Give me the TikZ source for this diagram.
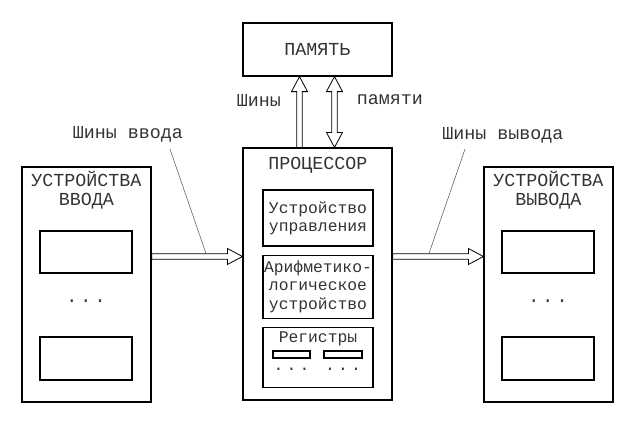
\documentclass[tikz,border=0pt]{standalone}
\usepackage{fontspec}
\setmonofont{Liberation Mono}
\usetikzlibrary{positioning, calc}

\newcommand{\px}{0.75pt}
\newcommand{\buswd}{2.1pt}
\newcommand{\headwd}{6pt}
\newcommand{\headln}{11.25pt}
\newcommand{\threedots}{.\hspace{2.4pt}.\hspace{2.4pt}.}

\tikzset{
  box/.style={draw, line width=0.9pt, inner sep=0pt},
  big/.style={font=\ttfamily\fontsize{13.75}{14.25}\selectfont, text=black!80, align=center, inner sep=0pt},
  small/.style={font=\ttfamily\fontsize{12.25}{13.6}\selectfont, text=black!80, align=center, inner sep=0pt},
  bus/.style={line width=0.6pt, line join=miter},
  leader/.style={draw=black!65, line width=0.4pt}
}

% bus with one head: #1 -> #2
\newcommand{\busone}[2]{%
  \draw[bus] ($(#1)!\buswd!90:(#2)$) -- ($($(#2)!\headln!(#1)$)!\buswd!90:(#2)$) -- ($($(#2)!\headln!(#1)$)!\headwd!90:(#2)$) -- (#2) -- ($($(#2)!\headln!(#1)$)!\headwd!-90:(#2)$) -- ($($(#2)!\headln!(#1)$)!\buswd!-90:(#2)$) -- ($(#1)!\buswd!-90:(#2)$) -- cycle;}

% bus with two heads: #1 <-> #2
\newcommand{\bustwo}[2]{%
  \draw[bus] (#1) -- ($($(#1)!\headln!(#2)$)!\headwd!90:(#2)$) -- ($($(#1)!\headln!(#2)$)!\buswd!90:(#2)$) -- ($($(#2)!\headln!(#1)$)!\buswd!90:(#2)$) -- ($($(#2)!\headln!(#1)$)!\headwd!90:(#2)$) -- (#2) -- ($($(#2)!\headln!(#1)$)!\headwd!-90:(#2)$) -- ($($(#2)!\headln!(#1)$)!\buswd!-90:(#2)$) -- ($($(#1)!\headln!(#2)$)!\buswd!-90:(#2)$) -- ($($(#1)!\headln!(#2)$)!\headwd!-90:(#2)$) -- cycle;}

\begin{document}
\begin{tikzpicture}[x=0.75pt, y=-0.75pt]
        \useasboundingbox (0,0) rectangle (637,421);

        % memory
        \node[box, big, minimum width=149*\px, minimum height=53*\px] (mem) at (317.5,49.5) {ПАМЯТЬ};

        % processor
        \node[box, minimum width=149*\px, minimum height=252*\px] (cpu) at (317.5,274) {};
        \node[big] (cputitle) at (318,165) {ПРОЦЕССОР};
        \node[box, small, minimum width=110*\px, minimum height=56*\px] (cu) at (318,218) {Устройство\\управления};
        \node[box, small, minimum width=110*\px, minimum height=63*\px, below=6pt of cu] (alu) {Арифметико-\\логическое\\устройство};
        \node[box, minimum width=110*\px, minimum height=60*\px, below=6pt of alu] (reg) {};
        \node[small] (regtitle) at ($(reg.north)+(0,12)$) {Регистры};
        \node[box, minimum width=37*\px, minimum height=7*\px] (r1) at (291.5,354.5) {};
        \node[box, minimum width=38*\px, minimum height=7*\px] (r2) at (343,354.5) {};
        \node[small] (rdots1) at ($(r1.south)+(0,11)$) {\threedots};
        \node[small] (rdots2) at ($(r2.south)+(0,11)$) {\threedots};

        % input devices
        \node[box, minimum width=129*\px, minimum height=235*\px] (inp) at (86.5,284.5) {};
        \node[big] (inptitle) at (86.5,190.5) {УСТРОЙСТВА\\ВВОДА};
        \node[box, minimum width=92*\px, minimum height=42*\px] (in1) at (86,252) {};
        \node[big] (indots) at (86,301) {\threedots};
        \node[box, minimum width=92*\px, minimum height=43*\px] (in2) at (86,358.5) {};

        % output devices
        \node[box, minimum width=129*\px, minimum height=235*\px] (out) at (548.5,284.5) {};
        \node[big] (outtitle) at (548.5,190.5) {УСТРОЙСТВА\\ВЫВОДА};
        \node[box, minimum width=92*\px, minimum height=42*\px] (out1) at (548,252) {};
        \node[big] (outdots) at (548,301) {\threedots};
        \node[box, minimum width=92*\px, minimum height=43*\px] (out2) at (548,358.5) {};

        % buses
        \coordinate (inA) at ($(inp.east)+(0,-28)$);
        \coordinate (inB) at (inA -| cpu.west);
        \busone{inA}{inB}
        \coordinate (outA) at (inA -| cpu.east);
        \coordinate (outB) at (inA -| out.west);
        \busone{outA}{outB}
        \coordinate (mA) at ($(cpu.north)+(-18,0)$);
        \coordinate (mB) at (mA |- mem.south);
        \busone{mA}{mB}
        \coordinate (dA) at ($(cpu.north)+(17,0)$);
        \coordinate (dB) at (dA |- mem.south);
        \bustwo{dA}{dB}

        % bus labels
        \node[big] (lmem1) at (259,100) {Шины};
        \node[big] (lmem2) at (390,100) {памяти};
        \node[big] (lin) at (128,134) {Шины ввода};
        \node[big] (lout) at (503,135) {Шины вывода};
        \coordinate (inK) at ($($(inA)!0.6!(inB)$)+(0,-2.8)$);
        \coordinate (outK) at ($($(outA)!0.4!(outB)$)+(0,-2.8)$);
        \draw[leader] ($(lin.south)+(42,7)$) -- (inK);
        \draw[leader] ($(lout.south)+(-38,6)$) -- (outK);
\end{tikzpicture}
\end{document}
